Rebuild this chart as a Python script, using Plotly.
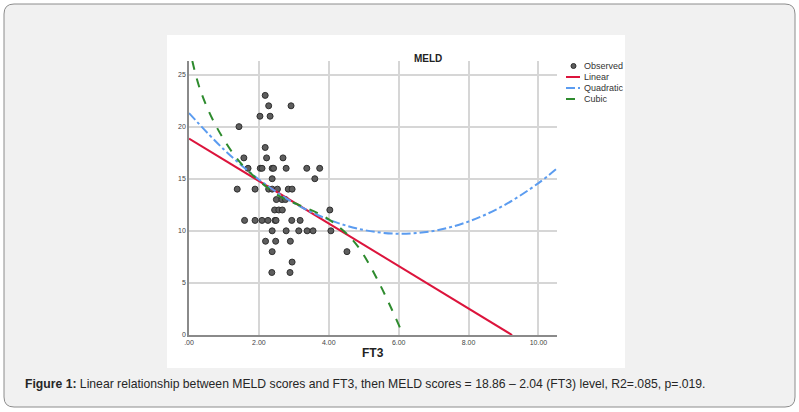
import plotly.graph_objects as go

# observed MELD vs FT3
ft3 = [1.38, 1.43, 1.57, 1.69, 1.59, 1.89, 1.89, 2.03, 2.04, 2.09, 2.09, 2.18, 2.28, 2.32,
       2.18, 2.22, 2.19, 2.26, 2.28, 2.38, 2.42, 2.38, 2.38, 2.38, 2.38, 2.37, 2.45, 2.46,
       2.49, 2.48, 2.53, 2.50, 2.57, 2.66, 2.67, 2.69, 2.78, 2.78, 2.76, 2.84, 2.95, 2.90,
       2.92, 2.89, 2.94, 2.95, 3.14, 3.18, 3.37, 3.38, 3.55, 3.60, 3.74, 4.03, 4.06, 4.52]
meld = [14, 20, 17, 16, 11, 14, 11, 21, 16, 16, 11, 23, 22, 21,
        18, 17, 9, 11, 14, 16, 16, 15, 14, 10, 8, 6, 12, 11,
        11, 9, 14, 13, 12, 13, 12, 17, 16, 10, 13, 14, 14, 9,
        22, 6, 11, 7, 10, 11, 16, 10, 10, 15, 16, 12, 10, 8]

# fitted curves, points
lin_x = [0.0, 9.245]
lin_y = [18.86, 0.0]

quad_x = [0, 1, 2, 3, 4, 5, 6, 7, 8, 9, 10, 10.5]
quad_y = [21.3, 17.8, 14.93, 12.68, 11.07, 10.08, 9.72, 9.99, 10.89, 12.42, 14.58, 15.9]

cub_x = [0.095, 0.314, 0.72, 1.31, 1.74, 2.6, 3.17, 3.83, 4.41, 4.88, 5.45, 6.05]
cub_y = [26.3, 23.6, 20.4, 17.2, 15.6, 13.3, 12.45, 11.45, 10.04, 8.28, 4.93, 0.61]

x_ticks = [0, 2, 4, 6, 8, 10]
x_labels = [".00", "2.00", "4.00", "6.00", "8.00", "10.00"]
y_ticks = [0, 5, 10, 15, 20, 25]

W, H = 799, 412
L, R, T, B = 189, 242, 61, 77


def px(X):
    return (X - L) / (W - L - R)


def py(Y):
    return (H - B - Y) / (H - T - B)


RED = "#dc143c"
BLUE = "#5b9cf0"
GREEN = "#2e8b2e"

fig = go.Figure()
fig.add_trace(go.Scatter(x=ft3, y=meld, mode="markers",
                         marker=dict(size=6, color="#5e5e5e", line=dict(color="#2f2f2f", width=1))))
fig.add_trace(go.Scatter(x=lin_x, y=lin_y, mode="lines", line=dict(color=RED, width=2)))
fig.add_trace(go.Scatter(x=quad_x, y=quad_y, mode="lines", line_shape="spline",
                         line=dict(color=BLUE, width=2, dash="dashdot")))
fig.add_trace(go.Scatter(x=cub_x, y=cub_y, mode="lines", line_shape="spline",
                         line=dict(color=GREEN, width=2, dash="dash")))

# page frame: rounded gray box and white figure panel
x0, x1, y0, y1, r = px(4), px(795), py(4), py(407), 10
rx, ry = r / (W - L - R), r / (H - T - B)
path = (f"M {x0+rx},{y0} L {x1-rx},{y0} Q {x1},{y0} {x1},{y0-ry} "
        f"L {x1},{y1+ry} Q {x1},{y1} {x1-rx},{y1} L {x0+rx},{y1} "
        f"Q {x0},{y1} {x0},{y1+ry} L {x0},{y0-ry} Q {x0},{y0} {x0+rx},{y0} Z")
shapes = [
    dict(type="path", path=path, xref="paper", yref="paper", layer="below",
         fillcolor="#f1f1f1", line=dict(color="#8c8c8c", width=1)),
    dict(type="rect", xref="paper", yref="paper", layer="below",
         x0=px(167), x1=px(625), y0=py(35), y1=py(368),
         fillcolor="white", line=dict(width=0)),
]

# legend drawn by hand to keep the tight SPSS spacing
shapes.append(dict(type="circle", xref="paper", yref="paper",
                   x0=px(571), x1=px(576), y0=py(63.5), y1=py(68.5),
                   fillcolor="#5e5e5e", line=dict(color="#2f2f2f", width=1)))
for yy, col, dash in [(77, RED, "solid"), (88, BLUE, "dashdot"), (99, GREEN, "dash")]:
    shapes.append(dict(type="line", xref="paper", yref="paper",
                       x0=px(566), x1=px(580), y0=py(yy), y1=py(yy),
                       line=dict(color=col, width=2, dash=dash)))

annotations = []
for yy, txt in [(66, "Observed"), (77, "Linear"), (88, "Quadratic"), (99, "Cubic")]:
    annotations.append(dict(text=txt, x=px(582), y=py(yy), xref="paper", yref="paper",
                            xanchor="left", yanchor="middle", showarrow=False,
                            font=dict(size=9, color="#333333")))
annotations += [
    dict(text="<b>MELD</b>", x=px(428), y=py(51), xref="paper", yref="paper",
         showarrow=False, font=dict(size=10, color="#222222")),
    dict(text="<b>FT3</b>", x=px(373), y=py(362), xref="paper", yref="paper",
         showarrow=False, font=dict(size=12, color="#222222")),
    dict(text="<b>Figure 1:</b> Linear relationship between MELD scores and FT3, then MELD scores = "
              "18.86 \u2013 2.04 (FT3) level, R2=.085, p=.019.",
         x=px(23), y=py(384), xref="paper", yref="paper", xanchor="left", yanchor="middle",
         showarrow=False, font=dict(size=12.2, color="#262626")),
]

fig.update_layout(
    width=W, height=H, showlegend=False,
    margin=dict(l=L, r=R, t=T, b=B),
    paper_bgcolor="white", plot_bgcolor="white",
    font=dict(family="Liberation Sans, Arial, sans-serif"),
    shapes=shapes, annotations=annotations,
)
fig.update_xaxes(range=[0, 10.53], tickvals=x_ticks, ticktext=x_labels,
                 showgrid=True, gridcolor="#d6d6d6", gridwidth=1.5, zeroline=False,
                 showline=True, linecolor="#8a8a8a", linewidth=1.5,
                 tickfont=dict(size=7, color="#444444"))
fig.update_yaxes(range=[0, 26.3], tickvals=y_ticks,
                 showgrid=True, gridcolor="#d6d6d6", gridwidth=1.5, zeroline=False,
                 showline=True, linecolor="#8a8a8a", linewidth=1.5,
                 tickfont=dict(size=7, color="#444444"))

# the page body has a default margin; drop it so the figure sits at the window origin
fig.write_html("out.html", config={"displayModeBar": False},
               post_script="document.body.style.margin='0';")
